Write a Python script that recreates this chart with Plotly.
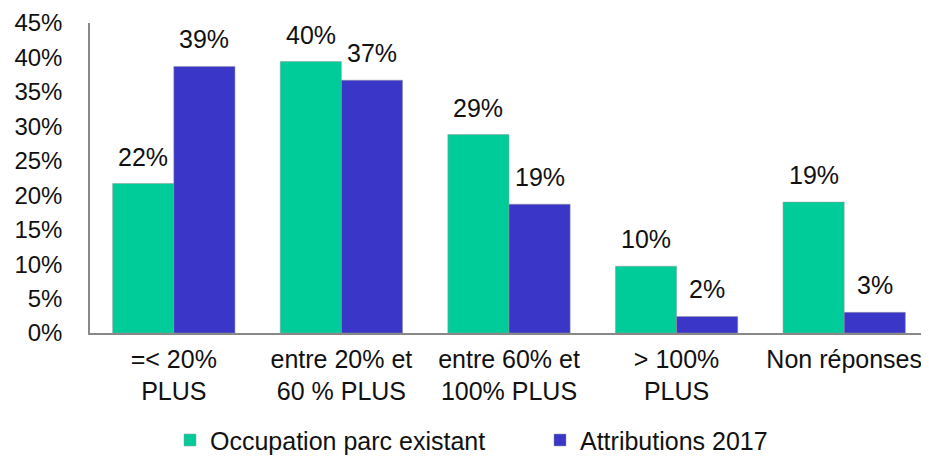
import plotly.graph_objects as go

categories = ["=< 20%<br>PLUS", "entre 20% et<br>60 % PLUS", "entre 60% et<br>100% PLUS", "> 100%<br>PLUS", "Non réponses"]
occupation = [21.7, 39.4, 28.8, 9.7, 19.0]
attributions = [38.7, 36.7, 18.7, 2.4, 3.0]
occupation_labels = ["22%", "40%", "29%", "10%", "19%"]
attributions_labels = ["39%", "37%", "19%", "2%", "3%"]
y_ticks = [0, 5, 10, 15, 20, 25, 30, 35, 40, 45]

family = "Liberation Sans, Arial, sans-serif"
font = dict(family=family, size=25, color="#111")
tick_font = dict(family=family, size=24, color="#111")

fig = go.Figure()
fig.add_trace(go.Bar(
    x=categories, y=occupation, name="Occupation parc existant",
    marker=dict(color="#00CC99", line=dict(color="#999", width=0.5)),
))
fig.add_trace(go.Bar(
    x=categories, y=attributions, name="Attributions 2017",
    marker=dict(color="#3A36C8", line=dict(color="#999", width=0.5)),
))

# value labels placed above each bar (half-bar pixel shift within each group)
half_bar_px = 30.6
for series, labels, sign in ((occupation, occupation_labels, -1), (attributions, attributions_labels, 1)):
    for cat, val, lab in zip(categories, series, labels):
        fig.add_annotation(x=cat, y=val, xref="x", yref="y", text=lab, showarrow=False,
                           xanchor="center", yanchor="bottom", xshift=sign * half_bar_px,
                           yshift=11, font=font)

fig.update_layout(
    width=921, height=455,
    margin=dict(l=82, r=1, t=15, b=130, autoexpand=False),
    barmode="group", bargap=0.27, bargroupgap=0,
    plot_bgcolor="white", paper_bgcolor="white",
    font=font,
    showlegend=True,
    legend=dict(orientation="h", xref="container", x=162/921, xanchor="left",
                yref="container", y=0.05, yanchor="middle",
                font=font, traceorder="normal", entrywidth=325, entrywidthmode="pixels"),
)
fig.update_yaxes(range=[0, 45], tickvals=y_ticks, ticktext=[f"{v}%" for v in y_ticks],
                 showgrid=False, showline=True, linecolor="#888", linewidth=1.5,
                 ticks="", ticklabelstandoff=21, ticklabeloverflow="allow",
                 zeroline=False, tickfont=tick_font)
fig.update_xaxes(showline=True, linecolor="#888", linewidth=1.5, ticks="",
                 tickfont=font, ticklabelstandoff=3)
fig.write_html("out.html")
